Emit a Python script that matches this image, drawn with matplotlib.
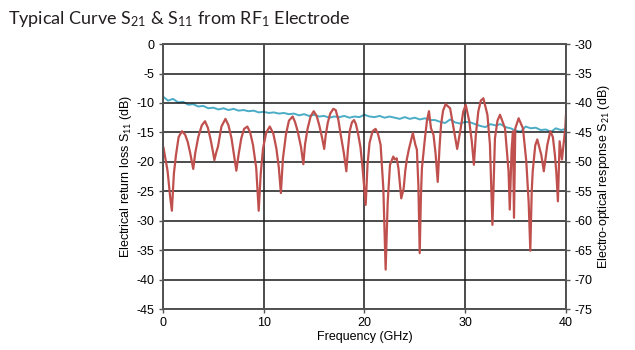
import matplotlib
matplotlib.use("Agg")
import matplotlib.pyplot as plt

plt.rcParams['font.family'] = ['Liberation Sans', 'DejaVu Sans']
plt.rcParams['axes.unicode_minus'] = False
plt.rcParams['mathtext.fontset'] = 'custom'
plt.rcParams['mathtext.rm'] = 'Lato'
plt.rcParams['mathtext.it'] = 'Lato'

# S11 (left axis, dB)
s11_freq = [0.05, 0.45, 0.7, 0.88, 1.08, 1.29, 1.55, 1.88, 2.2, 2.45, 2.7, 3.0, 3.2, 3.5, 3.85,
            4.17, 4.45, 4.7, 4.95, 5.1, 5.3, 5.46, 5.8, 6.2, 6.5, 6.8, 7.1, 7.28, 7.5, 7.77,
            8.05, 8.37, 8.65, 8.93, 9.25, 9.5, 9.7, 9.93, 10.25, 10.6, 10.95, 11.25, 11.5, 11.7,
            11.9, 12.2, 12.5, 12.87, 13.1, 13.37, 13.7, 13.93, 14.1, 14.36, 14.65, 14.96, 15.25,
            15.5, 15.8, 16.0, 16.15, 16.35, 16.6, 16.9, 17.14, 17.4, 17.64, 17.95, 18.2, 18.35,
            18.53, 18.75, 18.96, 19.15, 19.35, 19.6, 19.78, 20.12, 20.3, 20.5, 20.8, 21.1, 21.35,
            21.6, 21.87, 22.1, 22.3, 22.53, 22.86, 23.0, 23.2, 23.37, 23.65, 23.89, 24.05, 24.2,
            24.4, 24.8, 25.05, 25.2, 25.35, 25.48, 25.6, 25.7, 26.0, 26.2, 26.4, 26.6, 26.85,
            27.05, 27.27, 27.45, 27.6, 27.8, 28.05, 28.5, 28.9, 29.2, 29.55, 29.8, 30.05, 30.4,
            30.65, 30.86, 31.05, 31.3, 31.55, 31.8, 32.2, 32.45, 32.7, 32.95, 33.2, 33.45, 33.95,
            34.3, 34.42, 34.6, 34.74, 34.84, 34.97, 35.3, 35.73, 36.06, 36.3, 36.46, 36.6, 36.7,
            36.95, 37.15, 37.55, 37.8, 38.15, 38.45, 38.7, 38.9, 39.05, 39.2, 39.37, 39.6, 39.93,
            40.0]
s11_db = [-17.6, -21.5, -25.8, -28.3, -22.0, -18.8, -15.8, -14.8, -15.4, -16.6, -18.5, -21.2,
          -18.5, -15.8, -13.8, -13.1, -14.2, -16.0, -18.2, -19.7, -18.3, -17.4, -14.0, -12.7,
          -13.8, -16.0, -19.5, -21.5, -18.8, -16.0, -14.4, -14.0, -15.0, -17.1, -21.0, -28.3,
          -22.0, -17.7, -15.0, -14.0, -15.2, -17.7, -21.0, -25.3, -19.5, -15.4, -13.0, -12.3,
          -13.2, -14.8, -17.5, -20.4, -17.0, -14.3, -12.3, -11.4, -12.2, -13.7, -16.0, -17.8,
          -15.5, -13.4, -11.8, -11.0, -11.2, -12.8, -15.4, -18.5, -21.6, -18.0, -14.8, -13.3,
          -12.9, -13.6, -15.1, -17.5, -20.5, -27.3, -20.5, -16.8, -14.8, -14.4, -15.3, -17.1,
          -24.5, -38.3, -27.0, -20.5, -19.1, -19.6, -19.4, -21.1, -26.2, -24.5, -21.5, -19.6,
          -17.9, -15.1, -17.1, -17.9, -24.0, -35.5, -26.0, -21.1, -16.0, -13.0, -11.4, -14.3,
          -15.4, -18.5, -23.4, -17.5, -13.7, -11.3, -10.2, -10.9, -14.8, -17.8, -14.3, -11.5,
          -10.3, -13.1, -16.5, -20.5, -15.5, -11.4, -9.6, -9.2, -12.0, -17.0, -30.7, -16.0,
          -13.0, -12.0, -14.3, -21.6, -28.1, -18.0, -14.8, -29.5, -14.3, -12.6, -14.3, -19.9,
          -27.0, -35.1, -25.0, -21.6, -17.2, -16.2, -18.8, -21.6, -17.1, -14.8, -15.8, -18.8,
          -22.0, -26.7, -16.5, -19.6, -14.3, -12.0]

# S21 (right axis, dB)
s21_freq = [i * 0.5 for i in range(81)]
s21_db = [-38.9, -39.6, -39.3, -39.9, -39.8, -40.3, -40.2, -40.6, -40.5, -40.9,
          -40.8, -41.1, -40.9, -41.2, -41.0, -41.3, -41.2, -41.4, -41.3, -41.6,
          -41.5, -41.7, -41.6, -41.8, -41.7, -41.9, -41.8, -42.1, -41.9, -42.2,
          -42.0, -42.3, -42.2, -42.5, -42.3, -42.4, -42.2, -42.5, -42.3, -42.4,
          -42.0, -42.3, -42.4, -42.2, -42.5, -42.3, -42.5, -42.7, -42.4, -42.7,
          -42.5, -42.8, -42.6, -42.9, -42.9, -43.2, -43.4, -42.8, -43.3, -43.5,
          -43.2, -43.3, -43.6, -43.9, -44.1, -43.6, -43.8, -43.6, -44.1, -44.3,
          -44.7, -44.9, -44.0, -44.3, -44.2, -44.6, -44.5, -44.9, -44.3, -44.6,
          -44.4]

x_ticks = [0, 10, 20, 30, 40]
left_ticks = [0, -5, -10, -15, -20, -25, -30, -35, -40, -45]
right_ticks = [-30, -35, -40, -45, -50, -55, -60, -65, -70, -75]

fig = plt.figure(figsize=(6.35, 3.5), dpi=100)
ax = fig.add_axes([0.2567, 0.117, 0.6346, 0.757])
ax2 = ax.twinx()

ax2.plot(s21_freq, s21_db, color='#4BACC6', lw=1.4)
ax.plot(s11_freq, s11_db, color='#C0504D', lw=1.6)

ax.set_zorder(ax2.get_zorder() + 1)
ax.patch.set_visible(False)

ax.set_xlim(0, 40)
ax.set_ylim(-45, 0)
ax2.set_ylim(-75, -30)
ax.set_xticks(x_ticks)
ax.set_yticks(left_ticks)
ax2.set_yticks(right_ticks)

ax.grid(True, color='#1a1a1a', lw=1.1)
for a in (ax, ax2):
    for s in a.spines.values():
        s.set_color('#555555')
        s.set_linewidth(1.3)
    a.tick_params(labelsize=9, length=3, width=1, color='#555555', pad=3)

ax.set_xlabel('Frequency (GHz)', fontsize=9, labelpad=1)
ax.set_ylabel('Electrical return loss S$_{11}$ (dB)', fontsize=9, labelpad=2)
ax2.set_ylabel('Electro-optical response S$_{21}$ (dB)', fontsize=9, labelpad=3)

fig.text(0.012, 0.945, 'Typical Curve S$_{21}$ & S$_{11}$ from RF$_1$ Electrode',
         fontsize=13, family='Lato', color='#231f20', va='center', ha='left')

fig.savefig('out.png', dpi=100)
